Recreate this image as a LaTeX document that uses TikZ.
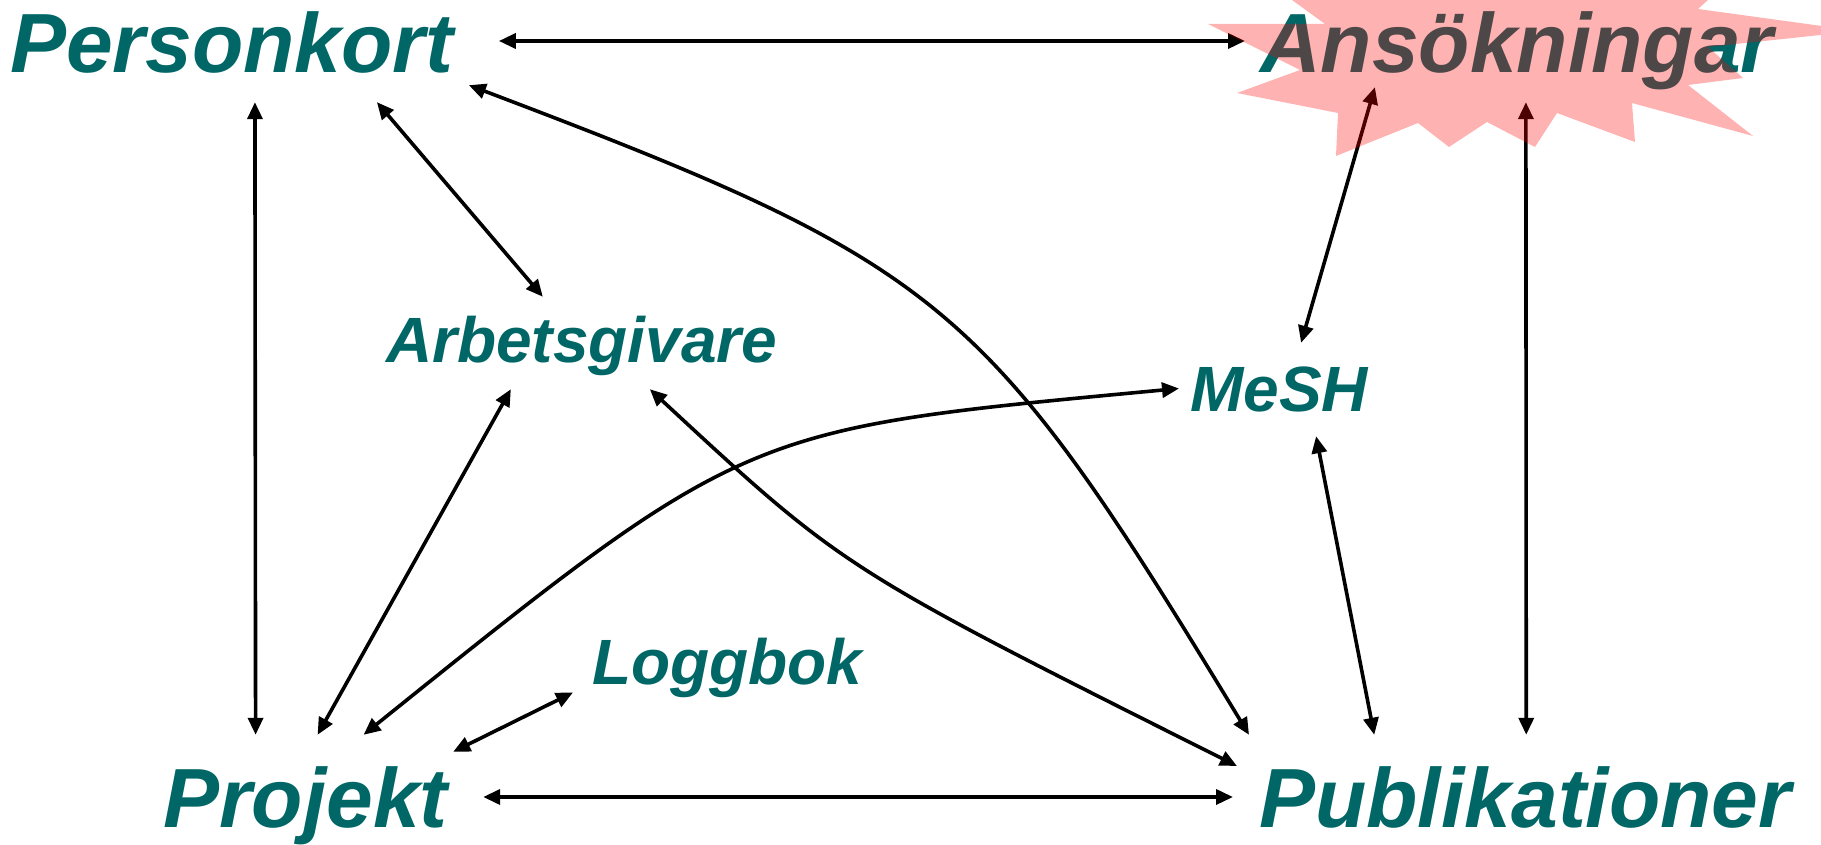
\documentclass[tikz,border=0pt]{standalone}
\usepackage{fontspec}
\setmainfont{Liberation Sans}
\usetikzlibrary{arrows.meta}
\definecolor{kortteal}{RGB}{0,102,102}

\begin{document}
\begin{tikzpicture}[x=1pt,y=1pt,
	big/.style={inner sep=0pt, anchor=base west, text=kortteal, font=\fontsize{84}{90}\selectfont\bfseries\itshape, text height=62pt, text depth=18pt},
	small/.style={big, font=\fontsize{64}{70}\selectfont\bfseries\itshape, text height=47pt, text depth=14pt},
	link/.style={line width=3.6pt, {Triangle[length=17pt,width=15pt]}-{Triangle[length=17pt,width=15pt]}}]
	\clip (0,0) rectangle (1821,845);
	\node[big] (personkort) at (10,772){Personkort};
	\node[big] (ansok) at (1260,772){Ansökningar};
	\node[big] (projekt) at (163,17){Projekt};
	\node[big] (publ) at (1259,17){Publikationer};
	\node[small] (arbgiv) at (386,482){Arbetsgivare};
	\node[small] (mesh) at (1190,433){MeSH};
	\node[small] (loggbok) at (592,160){Loggbok};
	\draw[link] ([shift={(45,10)}]personkort.east) -- ([shift={(-15,10)}]ansok.west);
	\draw[link] ([shift={(23,-11)}]personkort.south) -- ([shift={(-50,31)}]projekt.north);
	\draw[link] ([shift={(145,-11)}]personkort.south) -- ([shift={(-39,19)}]arbgiv.north);
	\draw[link] ([shift={(15,6)}]personkort.south east) .. controls +(478,-181) and +(-264,435) .. ([shift={(-10,31)}]publ.north west);
	\draw[link] ([shift={(-142,4)}]ansok.south) -- ([shift={(22,22)}]mesh.north);
	\draw[link] ([shift={(9,-11)}]ansok.south) -- ([shift={(1,31)}]publ.north);
	\draw[link] ([shift={(-71,-12)}]arbgiv.south) -- ([shift={(12,31)}]projekt.north);
	\draw[link] ([shift={(68,-12)}]arbgiv.south) .. controls +(194,-180) and +(-393,197) .. ([shift={(-22,40)}]publ.west);
	\draw[link] ([shift={(58,31)}]projekt.north) .. controls +(385,310) and +(-434,-41) .. ([shift={(-11,7)}]mesh.west);
	\draw[link] ([shift={(5,14)}]projekt.north east) -- ([shift={(-19,-24)}]loggbok.west);
	\draw[link] ([shift={(37,-10)}]mesh.south) -- ([shift={(-151,31)}]publ.north);
	\draw[link] ([shift={(35,9)}]projekt.east) -- ([shift={(-26,9)}]publ.west);
	\fill[red, opacity=.3] (1270,861) -- (1325,821) -- (1208,821) -- (1300,775) -- (1237,752) -- (1338,732) -- (1336,689) -- (1418,722) -- (1449,698) -- (1487,723) -- (1535,698) -- (1557,732) -- (1635,703) -- (1632,742) -- (1753,709) -- (1688,760) -- (1743,767) -- (1708,798) -- (1858,814) -- (1698,836) -- (1730,865) -- (1500,875) -- cycle;
\end{tikzpicture}
\end{document}
